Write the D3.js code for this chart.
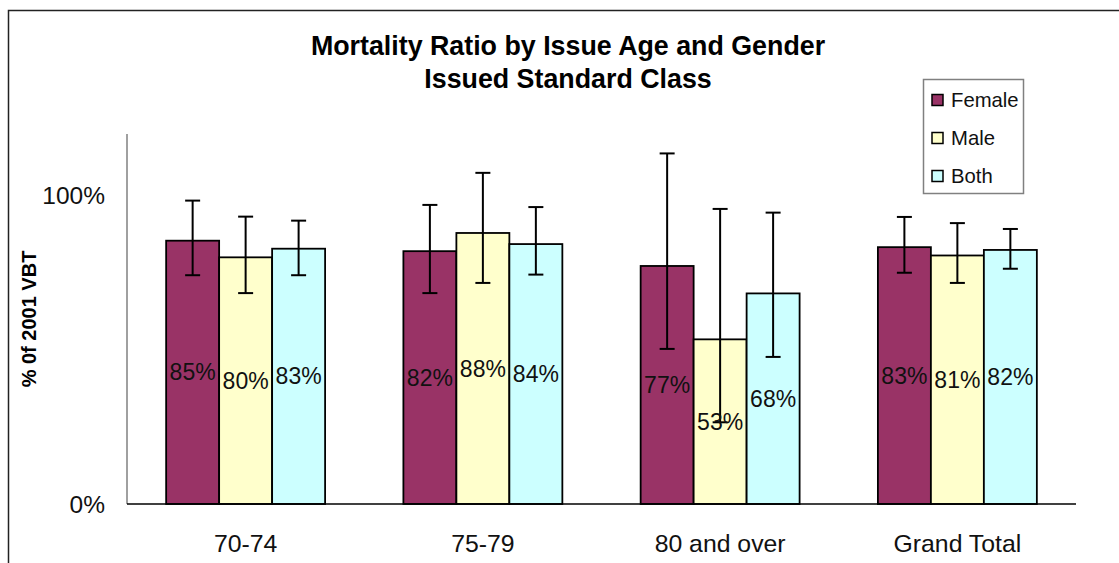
<!DOCTYPE html>
<html>
<head>
<meta charset="utf-8">
<script src="https://cdn.jsdelivr.net/npm/d3@7"></script>
<style>
  body { margin: 0; background: #fff; }
  text { font-family: "Liberation Sans", Arial, sans-serif; }
</style>
</head>
<body>
<div id="chart"></div>
<script>
// data
var categories = ["70-74", "75-79", "80 and over", "Grand Total"];
var seriesNames = ["Female", "Male", "Both"];
var seriesColors = ["#993366", "#FFFFCC", "#CCFFFF"];

var female = [0.854, 0.820, 0.772, 0.833];
var male = [0.800, 0.879, 0.534, 0.806];
var both = [0.828, 0.843, 0.683, 0.824];

var femaleLow = [0.742, 0.684, 0.503, 0.750];
var femaleHigh = [0.984, 0.970, 1.137, 0.931];
var maleLow = [0.684, 0.717, 0.265, 0.717];
var maleHigh = [0.932, 1.074, 0.957, 0.911];
var bothLow = [0.742, 0.744, 0.477, 0.763];
var bothHigh = [0.919, 0.963, 0.945, 0.892];

var yTicks = [0, 1];

var values = [female, male, both];
var lows = [femaleLow, maleLow, bothLow];
var highs = [femaleHigh, maleHigh, bothHigh];

var W = 1119, H = 563;
var plotL = 127, plotR = 1076, plotT = 134, plotB = 504;

var svg = d3.select("#chart").append("svg")
	.attr("width", W)
	.attr("height", H);

svg.append("rect")
	.attr("width", W).attr("height", H)
	.attr("fill", "#fff");

// outer chart border (runs off the picture right and bottom)
svg.append("rect")
	.attr("x", 8.5).attr("y", 10.5)
	.attr("width", 1200).attr("height", 700)
	.attr("fill", "none")
	.attr("stroke", "#222")
	.attr("stroke-width", 1.5);

var x = d3.scaleBand()
	.domain(categories)
	.range([plotL, plotR])
	.paddingInner(0.33)
	.paddingOuter(0.165);

var xs = d3.scaleBand()
	.domain(seriesNames)
	.range([0, x.bandwidth()]);

var y = d3.scaleLinear()
	.domain([0, 1.2])
	.range([plotB, plotT]);

var pct = d3.format(".0%");

// title
var title = svg.append("text")
	.attr("text-anchor", "middle")
	.attr("font-weight", "bold")
	.attr("font-size", "26.8px");
title.append("tspan").attr("x", 568).attr("y", 55).text("Mortality Ratio by Issue Age and Gender");
title.append("tspan").attr("x", 568).attr("y", 88).text("Issued Standard Class");

// y axis
svg.append("line")
	.attr("x1", plotL).attr("x2", plotL)
	.attr("y1", plotT).attr("y2", plotB)
	.attr("stroke", "#808080")
	.attr("stroke-width", 1.5);

svg.selectAll(".ytick")
	.data(yTicks)
	.enter().append("text")
	.attr("class", "ytick")
	.attr("x", 105)
	.attr("y", function(d) { return y(d); })
	.attr("dy", "0.35em")
	.attr("text-anchor", "end")
	.attr("font-size", "24.5px")
	.attr("fill", "#111")
	.text(function(d) { return pct(d); });

svg.append("text")
	.attr("transform", "translate(36," + ((plotT + plotB) / 2) + ") rotate(-90)")
	.attr("text-anchor", "middle")
	.attr("font-weight", "bold")
	.attr("font-size", "20px")
	.text("% 0f 2001 VBT");

// bars
var groups = svg.selectAll(".grp")
	.data(categories)
	.enter().append("g")
	.attr("class", "grp")
	.attr("transform", function(d) { return "translate(" + x(d) + ",0)"; });

seriesNames.forEach(function(s, si) {
	groups.append("rect")
		.attr("x", xs(s))
		.attr("y", function(d, i) { return y(values[si][i]); })
		.attr("width", xs.bandwidth())
		.attr("height", function(d, i) { return plotB - y(values[si][i]); })
		.attr("fill", seriesColors[si])
		.attr("stroke", "#000")
		.attr("stroke-width", 1.8);
});

// error bars
seriesNames.forEach(function(s, si) {
	var cx = xs(s) + xs.bandwidth() / 2;
	groups.append("line")
		.attr("x1", cx).attr("x2", cx)
		.attr("y1", function(d, i) { return y(highs[si][i]); })
		.attr("y2", function(d, i) { return y(lows[si][i]); })
		.attr("stroke", "#000").attr("stroke-width", 2);
	groups.append("line")
		.attr("x1", cx - 7.5).attr("x2", cx + 7.5)
		.attr("y1", function(d, i) { return y(highs[si][i]); })
		.attr("y2", function(d, i) { return y(highs[si][i]); })
		.attr("stroke", "#000").attr("stroke-width", 2);
	groups.append("line")
		.attr("x1", cx - 7.5).attr("x2", cx + 7.5)
		.attr("y1", function(d, i) { return y(lows[si][i]); })
		.attr("y2", function(d, i) { return y(lows[si][i]); })
		.attr("stroke", "#000").attr("stroke-width", 2);
});

// data labels, centred in each bar
seriesNames.forEach(function(s, si) {
	groups.append("text")
		.attr("x", xs(s) + xs.bandwidth() / 2)
		.attr("y", function(d, i) { return (y(values[si][i]) + plotB) / 2; })
		.attr("dy", "0.35em")
		.attr("text-anchor", "middle")
		.attr("font-size", "23px")
		.attr("fill", "#111")
		.text(function(d, i) { return pct(values[si][i]); });
});

// x axis
svg.append("line")
	.attr("x1", plotL).attr("x2", plotR)
	.attr("y1", plotB).attr("y2", plotB)
	.attr("stroke", "#000")
	.attr("stroke-width", 1.5);

svg.selectAll(".xlab")
	.data(categories)
	.enter().append("text")
	.attr("class", "xlab")
	.attr("x", function(d) { return x(d) + x.bandwidth() / 2; })
	.attr("y", 552)
	.attr("text-anchor", "middle")
	.attr("font-size", "24.8px")
	.attr("fill", "#111")
	.text(function(d) { return d; });

// legend
var lg = svg.append("g").attr("transform", "translate(923,79)");
lg.append("rect")
	.attr("x", 0.5).attr("y", 0.5)
	.attr("width", 100).attr("height", 114)
	.attr("fill", "#fff")
	.attr("stroke", "#808080")
	.attr("stroke-width", 1.5);

var li = lg.selectAll(".li")
	.data(seriesNames)
	.enter().append("g")
	.attr("class", "li")
	.attr("transform", function(d, i) { return "translate(0," + (21 + i * 38) + ")"; });
li.append("rect")
	.attr("x", 9).attr("y", -5.5)
	.attr("width", 11).attr("height", 11)
	.attr("fill", function(d, i) { return seriesColors[i]; })
	.attr("stroke", "#000")
	.attr("stroke-width", 1.5);
li.append("text")
	.attr("x", 28)
	.attr("dy", "0.35em")
	.attr("font-size", "20.3px")
	.attr("fill", "#111")
	.text(function(d) { return d; });
</script>
</body>
</html>
